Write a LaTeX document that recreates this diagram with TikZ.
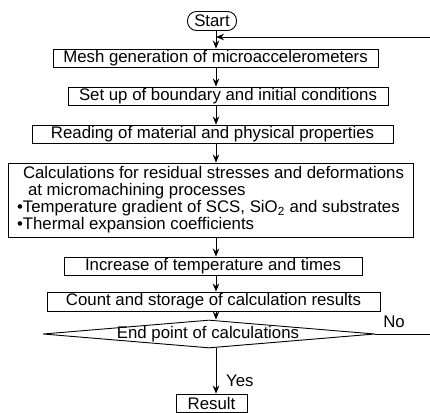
\documentclass[tikz,border=0pt]{standalone}
\usepackage{fontspec}
\setmainfont{Liberation Sans}
\usetikzlibrary{shapes.geometric,arrows.meta}
\newcommand\fs{\fontsize{16.8}{17}\selectfont}
\begin{document}
\begin{tikzpicture}[x=1pt,y=-1pt,
  box/.style={draw, line width=0.9pt, inner sep=0pt, minimum height=18pt, font=\fs},
  lbl/.style={font=\fs, inner sep=0pt},
  arr/.style={-{Stealth[length=8pt,width=6.5pt]}, line width=0.9pt},
  ln/.style={line width=0.9pt}]
\useasboundingbox (0,0) rectangle (430,412);
\coordinate (spine) at (216,0);
\node[box, rounded corners=9pt, minimum width=49pt, minimum height=19pt] (start) at (212,21) {Start};
\node[box, minimum width=325pt] (mesh) at (215.5,58) {Mesh generation of microaccelerometers};
\node[box, minimum width=320pt] (setup) at (228,96) {Set up of boundary and initial conditions};
\node[box, minimum width=361pt] (read) at (212.5,134) {Reading of material and physical properties};
\node[box, minimum width=405pt, minimum height=74pt, align=left] (calc) at (210.5,200)
  {\hspace*{6pt}Calculations for residual stresses and deformations\\
   \hspace*{11pt}at micromachining processes\\
   •Temperature gradient of SCS, SiO\textsubscript{2} and substrates\\
   •Thermal expansion coefficients};
\node[box, minimum width=298pt] (incr) at (213,266) {Increase of temperature and times};
\node[box, minimum width=333pt, minimum height=19pt] (count) at (213.5,301.5) {Count and storage of calculation results};
\node[box, diamond, aspect=12, minimum width=332pt, minimum height=28pt] (end) at (209,334) {};
\node[lbl] (endtxt) at (208,334.5) {End point of calculations};
\node[box, minimum width=71pt] (res) at (211.5,403) {Result};
\node[lbl, anchor=west] (yes) at (226,381) {Yes};
\node[lbl] (no) at (394,322) {No};
\coordinate (fb) at (430,37);
\coordinate (noend) at (430,334);
\draw[arr] (start.south -| spine) -- (mesh.north -| spine);
\draw[arr] (fb) -- (fb -| spine);
\draw[arr] (mesh.south -| spine) -- (setup.north -| spine);
\draw[arr] (setup.south -| spine) -- (read.north -| spine);
\draw[arr] (read.south -| spine) -- (calc.north -| spine);
\draw[arr] (calc.south -| spine) -- (incr.north -| spine);
\draw[arr] (incr.south -| spine) -- (count.north -| spine);
\draw[arr] (count.south -| spine) -- (end.north -| spine);
\draw[arr] (end.south -| spine) -- (res.north -| spine);
\draw[ln] (end.east) -- (noend);
\end{tikzpicture}
\end{document}
